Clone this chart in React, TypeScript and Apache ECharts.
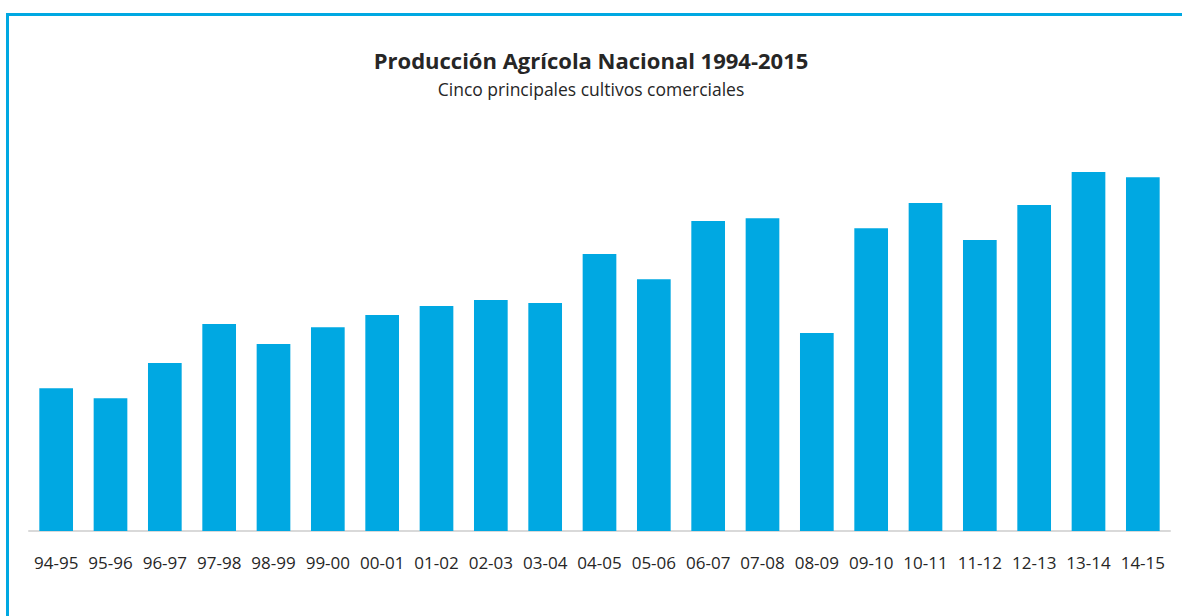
import React, { useEffect, useRef } from "react";
import * as echarts from "echarts";

const TITLE = "Producción Agrícola Nacional 1994-2015";
const SUBTITLE = "Cinco principales cultivos comerciales";

const campaigns = [
  "94-95", "95-96", "96-97", "97-98", "98-99", "99-00", "00-01", "01-02",
  "02-03", "03-04", "04-05", "05-06", "06-07", "07-08", "08-09", "09-10",
  "10-11", "11-12", "12-13", "13-14", "14-15",
];

// Producción (millones de toneladas, estimada desde la imagen)
const production = [
  44.3, 41.2, 52.1, 64.2, 58.0, 63.2, 67.0, 69.8, 71.6, 70.7, 85.9,
  78.1, 96.1, 97.0, 61.4, 93.9, 101.7, 90.2, 101.1, 111.3, 109.7,
];

const BAR_COLOR = "#00A8E2";
const FRAME_COLOR = "#00A8E2";

export default function App() {
  const ref = useRef<HTMLDivElement>(null);

  useEffect(() => {
    if (!ref.current) return;
    const chart = echarts.init(ref.current, undefined, { renderer: "svg" });
    chart.setOption({
      animation: false,
      backgroundColor: "#ffffff",
      title: [
        {
          text: TITLE,
          left: "center",
          top: 44,
          textStyle: {
            fontFamily: "Open Sans",
            fontWeight: "bold",
            fontSize: 22,
            color: "#262626",
          },
        },
        {
          text: SUBTITLE,
          left: "center",
          top: 75,
          textStyle: {
            fontFamily: "Open Sans",
            fontWeight: "normal",
            fontSize: 17.5,
            color: "#262626",
          },
        },
      ],
      grid: { left: 29, right: 12, top: 144, bottom: 85, containLabel: false },
      xAxis: {
        type: "category",
        data: campaigns,
        axisLine: { show: true, lineStyle: { color: "#D9D9D9", width: 2 } },
        axisTick: { show: false },
        axisLabel: {
          margin: 23,
          fontFamily: "Open Sans",
          fontSize: 17,
          color: "#262626",
          interval: 0,
        },
      },
      yAxis: {
        type: "value",
        min: 0,
        max: 120,
        show: false,
        splitLine: { show: false },
      },
      series: [
        {
          type: "bar",
          data: production,
          barWidth: "62%",
          itemStyle: { color: BAR_COLOR },
        },
      ],
      graphic: [
        {
          type: "rect",
          shape: { x: 6, y: 13, width: 3, height: 603 },
          style: { fill: FRAME_COLOR },
          silent: true,
        },
        {
          type: "rect",
          shape: { x: 6, y: 13, width: 1176, height: 3 },
          style: { fill: FRAME_COLOR },
          silent: true,
        },
      ],
    });
    return () => chart.dispose();
  }, []);

  return (
    <div
      ref={ref}
      style={{ position: "fixed", left: 0, top: 0, width: 1182, height: 616 }}
    />
  );
}
